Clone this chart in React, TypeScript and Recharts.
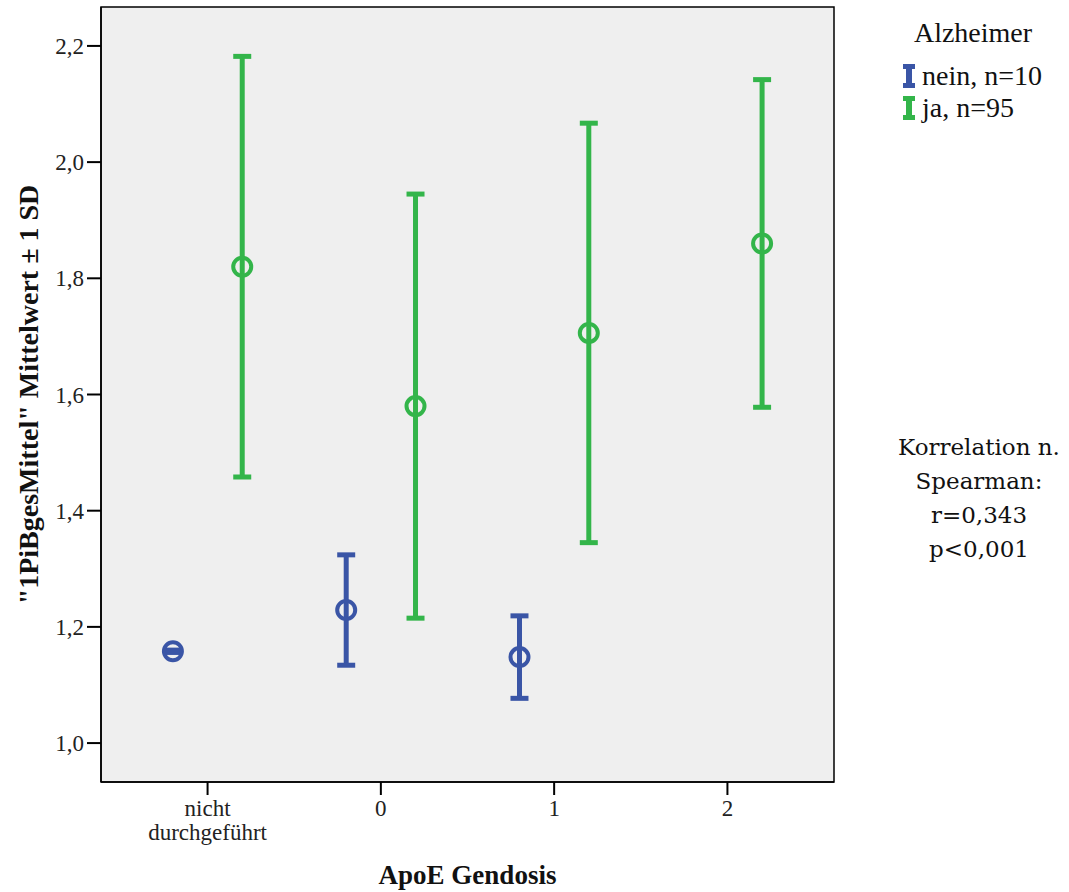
import React from 'react';
import { ComposedChart, Scatter, ErrorBar, XAxis, YAxis, CartesianGrid, ReferenceArea } from 'recharts';

const categories = ['nicht durchgeführt', '0', '1', '2'];
const neinMean = [1.158, 1.229, 1.148];
const neinSd = [0.002, 0.095, 0.071];
const jaMean = [1.82, 1.58, 1.706, 1.86];
const jaSd = [0.362, 0.365, 0.361, 0.282];
const yTicks = [1.0, 1.2, 1.4, 1.6, 1.8, 2.0, 2.2];
const xTicks = [0, 1, 2, 3];
const xDomain = [-0.615, 3.615];
const yDomain = [0.933, 2.267];

const BLUE = '#3a55a6';
const GREEN = '#33b54a';
const SERIF = "'Liberation Serif', 'Times New Roman', serif";

const neinData = neinMean.map((m, i) => ({ x: i - 0.2, y: m, sd: neinSd[i] }));
const jaData = jaMean.map((m, i) => ({ x: i + 0.2, y: m, sd: jaSd[i] }));

const Ring = (color: string) => (props: any) => {
  const { cx, cy } = props;
  return <circle cx={cx} cy={cy} r={9} fill="none" stroke={color} strokeWidth={4} />;
};

const XTick = ({ x, y, payload }: any) => {
  const words = String(categories[payload.value] ?? '').split(' ');
  return (
    <text x={x} y={y} textAnchor="middle" fontFamily={SERIF} fontSize={23} fill="#222">
      {words.map((w, i) => (
        <tspan key={i} x={x} dy={i === 0 ? 19 : 24}>{w}</tspan>
      ))}
    </text>
  );
};

const LegendIcon = ({ color }: { color: string }) => (
  <svg width={14} height={26} style={{ marginRight: 6 }}>
    <rect x={1} y={1} width={12} height={5} fill={color} />
    <rect x={4} y={1} width={6} height={24} fill={color} />
    <rect x={1} y={20} width={12} height={5} fill={color} />
  </svg>
);

export default function App() {
  return (
    <div style={{ position: 'absolute', left: 0, top: 0, width: 1069, height: 892, background: '#fff' }}>
      <ComposedChart width={1069} height={892} margin={{ top: 7, right: 235, bottom: 0, left: 0 }}>
        <CartesianGrid fill="#efefef" horizontal={false} vertical={false} />
        <XAxis
          xAxisId="b"
          type="number"
          dataKey="x"
          domain={xDomain}
          allowDataOverflow
          ticks={xTicks}
          tick={<XTick />}
          tickSize={13}
          height={110}
          axisLine={{ stroke: '#000', strokeWidth: 1.5 }}
          tickLine={{ stroke: '#000', strokeWidth: 2 }}
          label={{ value: 'ApoE Gendosis', position: 'insideBottom', offset: 8, style: { fontFamily: SERIF, fontSize: 27, fontWeight: 'bold', fill: '#111' } }}
        />
        <YAxis
          yAxisId="l"
          type="number"
          domain={yDomain}
          allowDataOverflow
          ticks={yTicks}
          width={101}
          tickSize={14}
          tickMargin={3}
          tickFormatter={(v: number) => v.toFixed(1).replace('.', ',')}
          tick={{ fontFamily: SERIF, fontSize: 23, fill: '#222' }}
          axisLine={{ stroke: '#000', strokeWidth: 1.5 }}
          tickLine={{ stroke: '#000', strokeWidth: 2 }}
          label={{
            value: '"1PiBgesMittel" Mittelwert \u00b1 1 SD',
            angle: -90,
            position: 'insideLeft',
            offset: 28,
            style: { textAnchor: 'middle', fontFamily: SERIF, fontSize: 28, fontWeight: 'bold', fill: '#111' },
          }}
        />
        <ReferenceArea
          xAxisId="b"
          yAxisId="l"
          x1={xDomain[0]}
          x2={xDomain[1]}
          y1={yDomain[0]}
          y2={yDomain[1]}
          fill="none"
          stroke="#000"
          strokeWidth={1.5}
        />
        <Scatter name="nein, n=10" data={neinData} xAxisId="b" yAxisId="l" dataKey="y" shape={Ring(BLUE)} isAnimationActive={false}>
          <ErrorBar dataKey="sd" direction="y" width={9} stroke={BLUE} strokeWidth={5} isAnimationActive={false} />
        </Scatter>
        <Scatter name="ja, n=95" data={jaData} xAxisId="b" yAxisId="l" dataKey="y" shape={Ring(GREEN)} isAnimationActive={false}>
          <ErrorBar dataKey="sd" direction="y" width={9} stroke={GREEN} strokeWidth={5} isAnimationActive={false} />
        </Scatter>
      </ComposedChart>
      <div style={{ position: 'absolute', left: 880, top: 13, width: 186, fontFamily: SERIF, fontSize: 28, color: '#111' }}>
        <div style={{ textAlign: 'center', height: 47, lineHeight: '40px' }}>Alzheimer</div>
        <div style={{ display: 'flex', alignItems: 'center', marginLeft: 22, height: 32 }}>
          <LegendIcon color={BLUE} />nein, n=10
        </div>
        <div style={{ display: 'flex', alignItems: 'center', marginLeft: 22, height: 32 }}>
          <LegendIcon color={GREEN} />ja, n=95
        </div>
      </div>
      <div
        style={{
          position: 'absolute',
          left: 886,
          top: 430,
          width: 186,
          textAlign: 'center',
          fontFamily: "'DejaVu Serif', serif",
          fontSize: 23,
          lineHeight: '34px',
          color: '#111',
        }}
      >
        Korrelation n.<br />Spearman:<br />r=0,343<br />p&lt;0,001
      </div>
    </div>
  );
}
